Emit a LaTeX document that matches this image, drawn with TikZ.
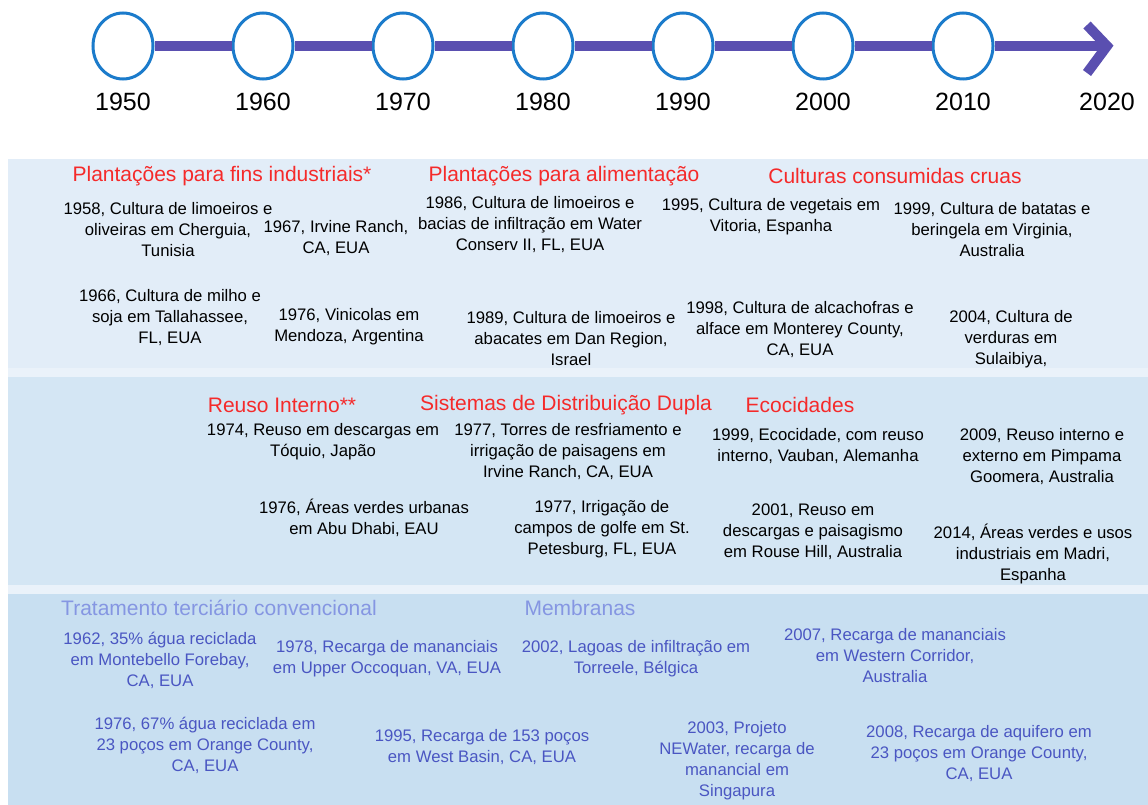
\documentclass[tikz,border=0pt]{standalone}
\usepackage{fontspec}
\setmainfont{Liberation Sans}
\usetikzlibrary{shapes.geometric}
\definecolor{linepurple}{HTML}{5A4FB0}
\definecolor{ringblue}{HTML}{1B7BCB}
\definecolor{headred}{HTML}{F52A2A}
\definecolor{bandpale}{HTML}{EAF2FA}
\definecolor{bandone}{HTML}{E2EDF8}
\definecolor{bandtwo}{HTML}{D4E6F4}
\definecolor{bandthree}{HTML}{C8DFF1}
\definecolor{techblue}{HTML}{8596E2}
\definecolor{evtblue}{HTML}{4A56C2}
\begin{document}
\begin{tikzpicture}[x=1pt,y=-1pt,
        ring/.style={ellipse,draw=ringblue,line width=3pt,fill=white,minimum width=60pt,minimum height=66pt,inner sep=0},
        yearlbl/.style={font=\fontsize{25}{28}\selectfont,inner sep=0},
        timeline/.style={linepurple,line width=10pt},
        evt/.style={align=center,font=\fontsize{16.7}{21}\selectfont,inner sep=0},
        hd/.style={text=headred,font=\fontsize{21}{24}\selectfont,inner sep=0},
        techhd/.style={hd,text=techblue},
        techevt/.style={evt,text=evtblue}]
        \useasboundingbox(0,0)rectangle(1148,805);
        % bands
        \fill[bandpale](8,159)rectangle(1148,805);
        \fill[bandone](8,159)rectangle(1148,368);
        \fill[bandtwo](8,377)rectangle(1148,585);
        \fill[bandthree](8,594)rectangle(1148,805);
        % timeline
        \foreach \yr [count=\i] in {1950,1960,...,2010}
            {
                \node[ring] (c\i) at ({123+140*(\i-1)},46) {};
                \node[yearlbl] (y\i) at ({123+140*(\i-1)},102) {\yr};
            }
        \node[yearlbl] (y8) at (1107,102) {2020};
        \coordinate (tip) at (1107,46);
        \foreach \i [evaluate=\i as \j using int(\i+1)] in {1,...,6}
            \draw[timeline] (c\i) -- (c\j);
        \draw[timeline] (c7) -- (tip);
        \draw[timeline] (tip) ++(-20,-21) -- (tip) -- ++(-20,27);
        % plantacoes
        \node[hd] (ind) at (222,176) {Plantações para fins industriais*};
        \node[hd] (ali) at (564,176) {Plantações para alimentação};
        \node[hd] (cru) at (895,176) {Culturas consumidas cruas};
        \node[evt] (e1958) at (168,230) {1958, Cultura de limoeiros e\\oliveiras em Cherguia,\\Tunisia};
        \node[evt] (e1967) at (336,238.5) {1967, Irvine Ranch,\\CA, EUA};
        \node[evt] (e1986) at (530,225) {1986, Cultura de limoeiros e\\bacias de infiltração em Water\\Conserv II, FL, EUA};
        \node[evt] (e1995) at (771,217) {1995, Cultura de vegetais em\\Vitoria, Espanha};
        \node[evt] (e1999) at (992,230) {1999, Cultura de batatas e\\beringela em Virginia,\\Australia};
        \node[evt] (e1966) at (170,318) {1966, Cultura de milho e\\soja em Tallahassee,\\FL, EUA};
        \node[evt] (e1976) at (349,326.5) {1976, Vinicolas em\\Mendoza, Argentina};
        \node[evt] (e1989) at (571,339) {1989, Cultura de limoeiros e\\abacates em Dan Region,\\Israel};
        \node[evt] (e1998) at (800,330) {1998, Cultura de alcachofras e\\alface em Monterey County,\\CA, EUA};
        \node[evt] (e2004) at (1011,339) {2004, Cultura de\\verduras em\\Sulaibiya,};
        % usos urbanos
        \node[hd] (reu) at (282,405) {Reuso Interno**};
        \node[hd] (sis) at (566,405) {Sistemas de Distribuição Dupla};
        \node[hd] (eco) at (800,405) {Ecocidades};
        \node[evt] (u1974) at (323,442) {1974, Reuso em descargas em\\Tóquio, Japão};
        \node[evt] (u1977a) at (568,452) {1977, Torres de resfriamento e\\irrigação de paisagens em\\Irvine Ranch, CA, EUA};
        \node[evt] (u1999) at (818,446.5) {1999, Ecocidade, com reuso\\interno, Vauban, Alemanha};
        \node[evt] (u2009) at (1042,457) {2009, Reuso interno e\\externo em Pimpama\\Goomera, Australia};
        \node[evt] (u1976) at (364,517.5) {1976, Áreas verdes urbanas\\em Abu Dhabi, EAU};
        \node[evt] (u1977b) at (602,529) {1977, Irrigação de\\campos de golfe em St.\\Petesburg, FL, EUA};
        \node[evt] (u2001) at (813,532) {2001, Reuso em\\descargas e paisagismo\\em Rouse Hill, Australia};
        \node[evt] (u2014) at (1033,554) {2014, Áreas verdes e usos\\industriais em Madri,\\Espanha};
        % recarga
        \node[techhd] (tra) at (219,608) {Tratamento terciário convencional};
        \node[techhd] (mem) at (580,608) {Membranas};
        \node[techevt] (r1962) at (160,660) {1962, 35\% água reciclada\\em Montebello Forebay,\\CA, EUA};
        \node[techevt] (r1978) at (387,658.5) {1978, Recarga de mananciais\\em Upper Occoquan, VA, EUA};
        \node[techevt] (r2002) at (636,658.5) {2002, Lagoas de infiltração em\\Torreele, Bélgica};
        \node[techevt] (r2007) at (895,656) {2007, Recarga de mananciais\\em Western Corridor,\\Australia};
        \node[techevt] (r1976) at (205,745) {1976, 67\% água reciclada em\\23 poços em Orange County,\\CA, EUA};
        \node[techevt] (r1995) at (482,747.5) {1995, Recarga de 153 poços\\em West Basin, CA, EUA};
        \node[techevt] (r2003) at (737,760.5) {2003, Projeto\\NEWater, recarga de\\manancial em\\Singapura};
        \node[techevt] (r2008) at (979,754) {2008, Recarga de aquifero em\\23 poços em Orange County,\\CA, EUA};
    \end{tikzpicture}
\end{document}
